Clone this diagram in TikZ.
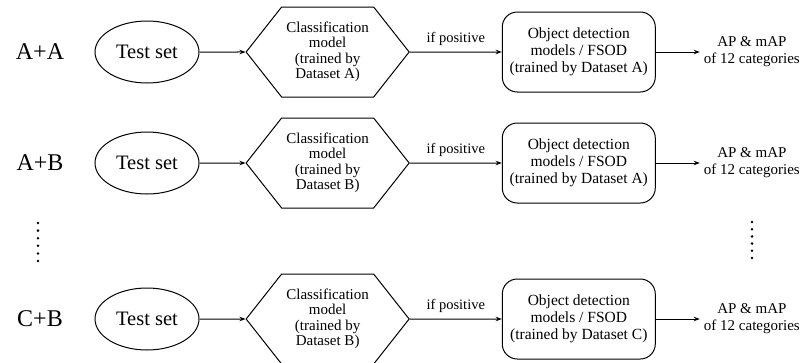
\documentclass[tikz,border=0pt]{standalone}
\usepackage{fontspec}
\setmainfont{Liberation Serif}
\usetikzlibrary{arrows.meta,positioning,shapes.geometric,shapes.symbols}

\begin{document}
\begin{tikzpicture}[
  x=1pt, y=1pt,
  every node/.style={font=\fontsize{15}{15.5}\selectfont, align=center},
  testset/.style={ellipse, draw, line width=1pt, minimum width=104pt, minimum height=62pt, inner sep=0pt, font=\fontsize{20.5}{22}\selectfont},
  classifier/.style={signal, signal to=west and east, signal pointer angle=103.5, draw, line width=1pt, minimum width=163pt, minimum height=90pt, inner sep=0pt},
  detector/.style={draw, line width=1pt, rounded corners=15pt, minimum width=153pt, minimum height=80pt, inner sep=0pt, font=\fontsize{15.5}{17}\selectfont},
  result/.style={inner sep=4pt, font=\fontsize{15}{17}\selectfont},
  rowlabel/.style={font=\fontsize{24}{26}\selectfont},
  flow/.style={draw, -{Stealth[length=6pt,width=4.5pt]}, line width=1pt}
]
\useasboundingbox (0,0) rectangle (808,-362);

% one row per experiment
\foreach \lab/\y/\clsset/\dset [count=\i] in {A+A/-52/A/A, A+B/-163/B/A, C+B/-319/B/C} {
  \node[rowlabel] (lab\i) at (40,\y) {\lab};
  \node[testset] (test\i) at (147,\y) {Test set};
  \node[classifier, right=46pt of test\i] (cls\i) {Classification\\model\\(trained by\\Dataset \clsset)};
  \node[detector, right=92pt of cls\i] (det\i) {Object detection\\models / FSOD\\(trained by Dataset \dset)};
  \node[result, right=44pt of det\i] (res\i) {AP \& mAP\\of 12 categories};
  \draw[flow] (test\i) -- (cls\i);
  \draw[flow] (cls\i) -- node[above, yshift=3pt, font=\fontsize{14.5}{16}\selectfont] {if positive} (det\i);
  \draw[flow] (det\i) -- (res\i);
}

% vertical dots between the rows
\foreach \k in {0,...,5} {
  \fill (38,-223-7.6*\k) circle (1.4pt);
  \fill (752,-222-7.2*\k) circle (1.4pt);
}
\end{tikzpicture}
\end{document}
